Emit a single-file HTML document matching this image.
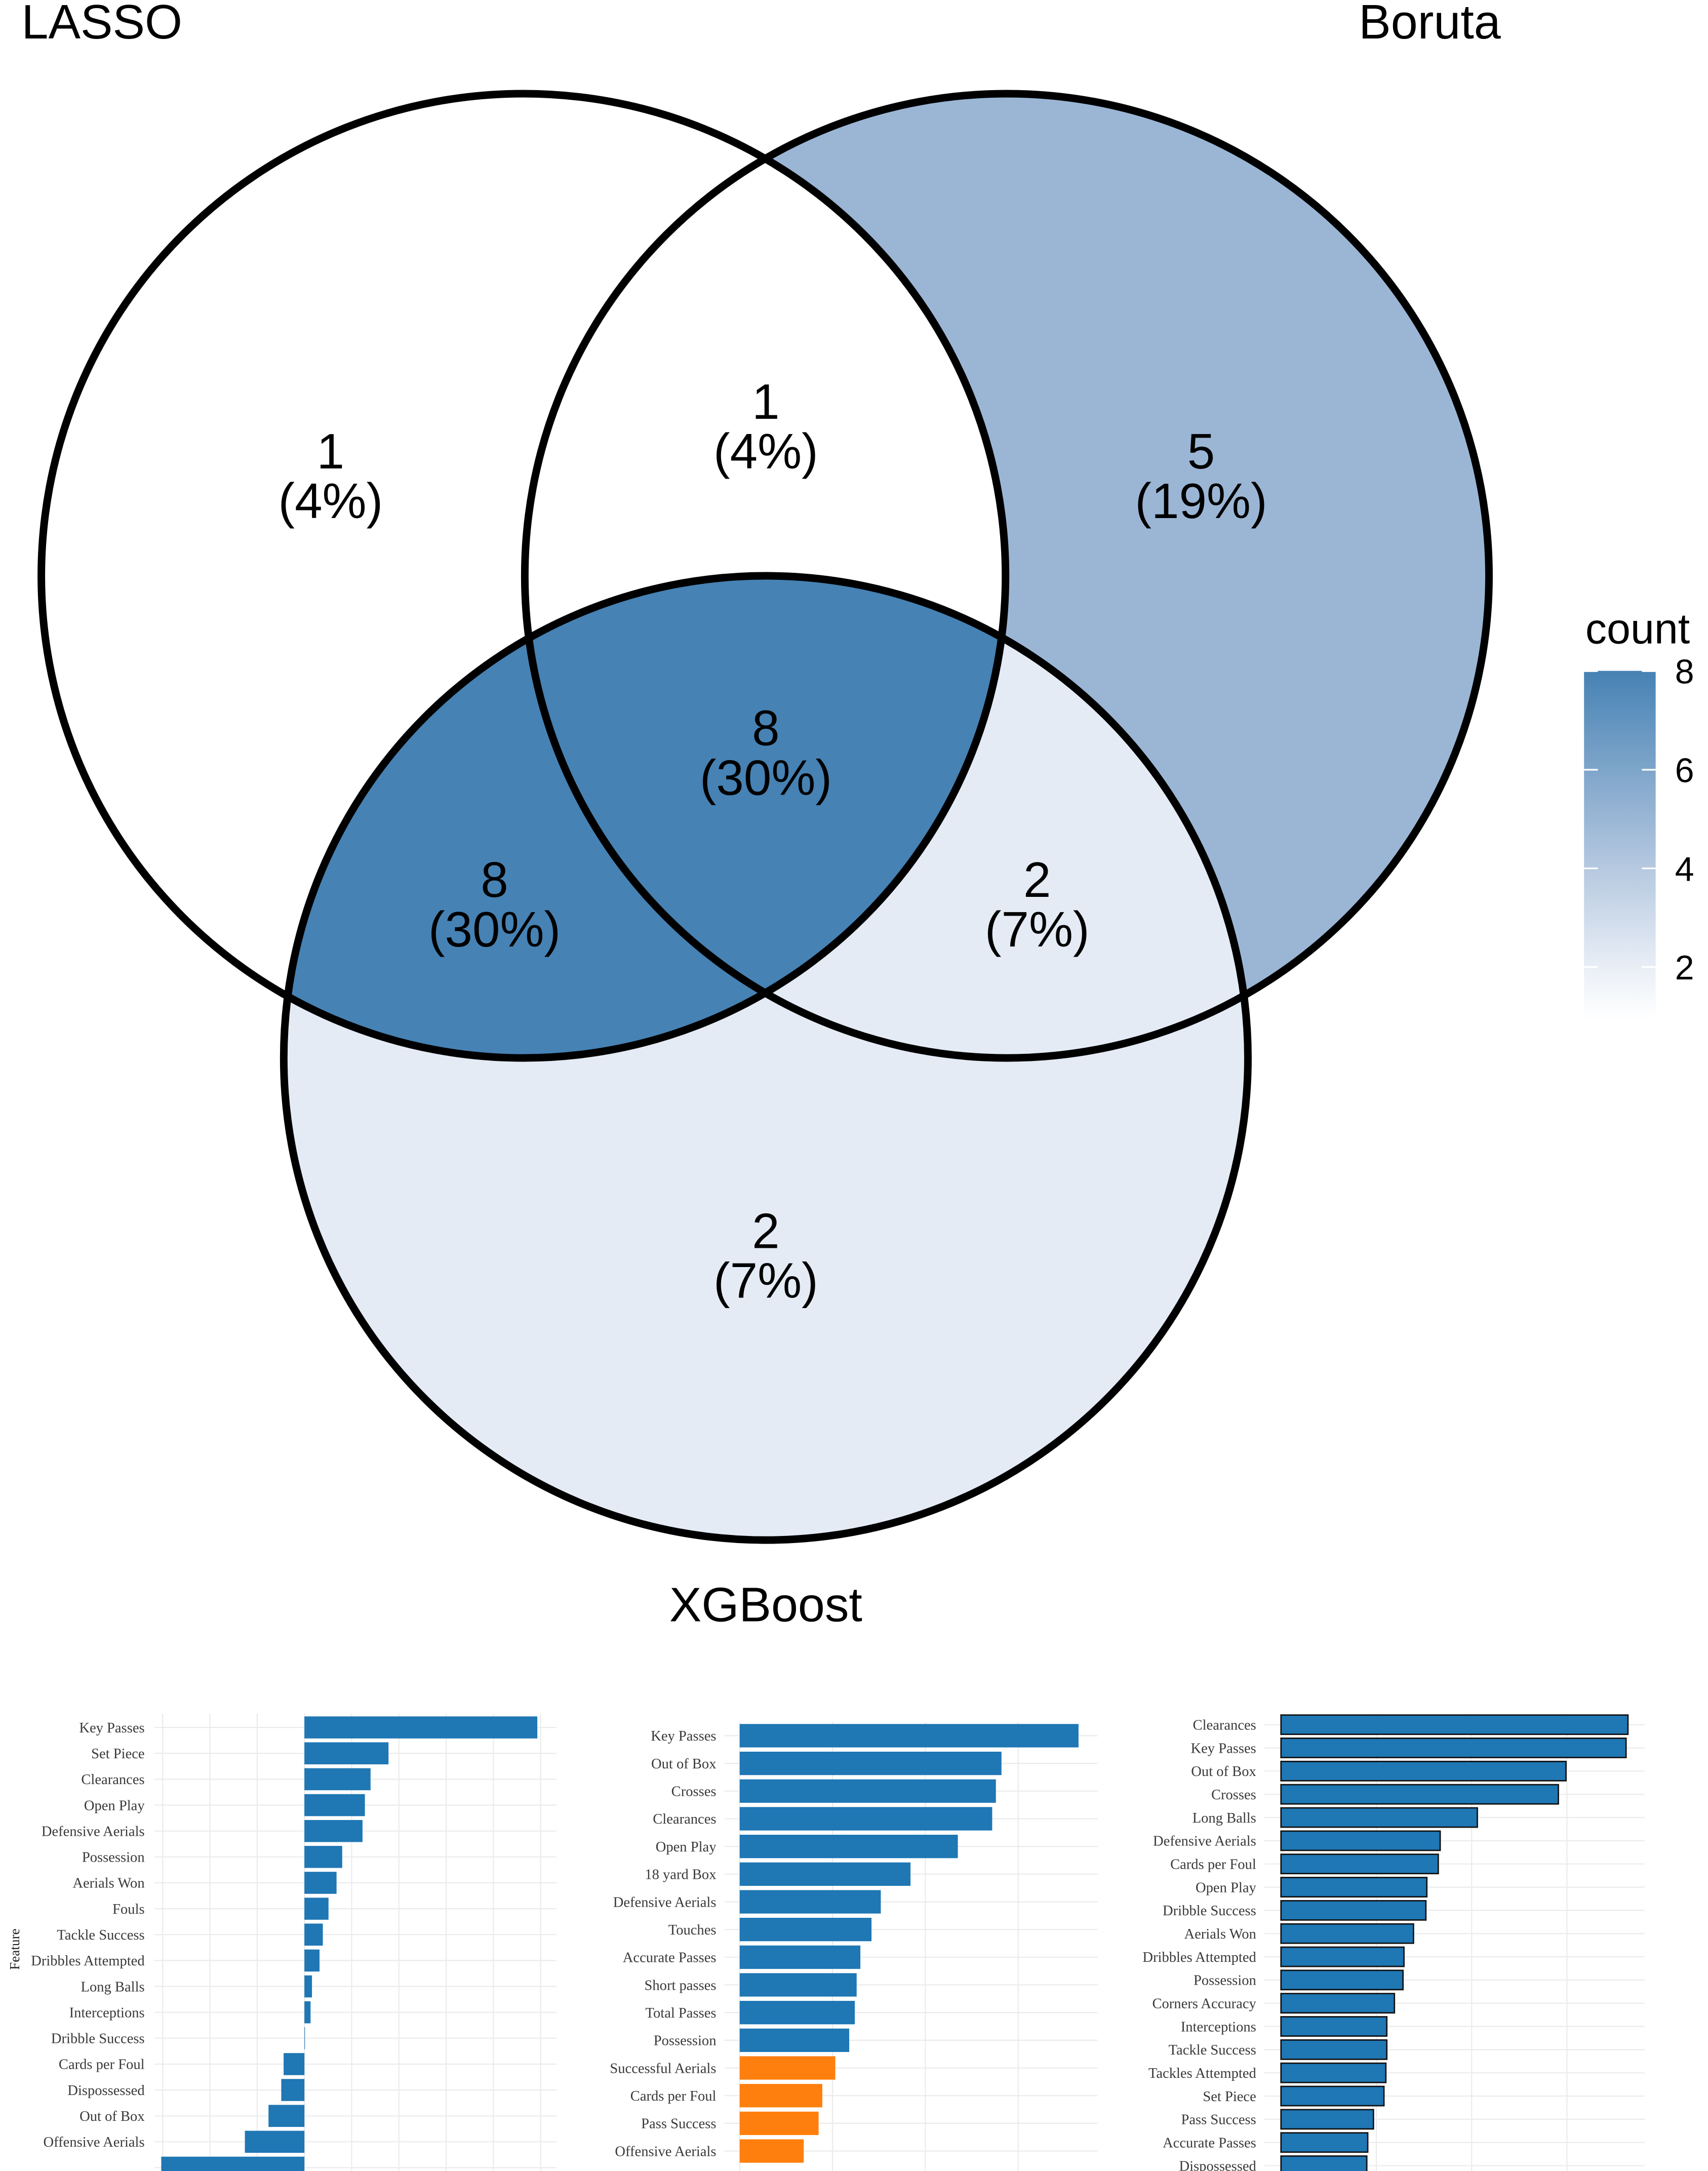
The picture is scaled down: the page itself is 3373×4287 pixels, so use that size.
<!DOCTYPE html>
<html><head><meta charset="utf-8">
<style>html,body{margin:0;padding:0;background:#fff;}svg{display:block;}</style>
</head><body>
<svg id="root" xmlns="http://www.w3.org/2000/svg" width="3373" height="4287" viewBox="0 0 1240 1576" preserveAspectRatio="none">
<defs>
<clipPath id="clipA"><circle cx="380" cy="418" r="350"/></clipPath>
<linearGradient id="lg" x1="0" y1="1" x2="0" y2="0">
<stop offset="0" stop-color="#ffffff"/>
<stop offset="0.12" stop-color="#eef2f8"/>
<stop offset="0.5" stop-color="#a9c0db"/>
<stop offset="1" stop-color="#4682b4"/>
</linearGradient>
</defs>
<g id="venn"></g>
<g id="legend"></g>
<g id="p1"></g>
<g id="p2"></g>
<g id="p3"></g>
</svg>
<script>
// ---- Venn data ----
const vennCounts = [1, 5, 2, 1, 8, 2, 8]; // A, B, C, AB, AC, BC, ABC
const vennPcts = ["4%", "19%", "7%", "4%", "30%", "7%", "30%"];
const setNames = ["LASSO", "Boruta", "XGBoost"];
// ---- Bar chart data ----
const p1Labels = ["Key Passes","Set Piece","Clearances","Open Play","Defensive Aerials","Possession","Aerials Won","Fouls","Tackle Success","Dribbles Attempted","Long Balls","Interceptions","Dribble Success","Cards per Foul","Dispossessed","Out of Box","Offensive Aerials",""];
const p1Values = [4.93,1.78,1.40,1.28,1.23,0.80,0.68,0.51,0.39,0.32,0.16,0.13,0.01,-0.44,-0.49,-0.76,-1.26,-3.03];
const p2Labels = ["Key Passes","Out of Box","Crosses","Clearances","Open Play","18 yard Box","Defensive Aerials","Touches","Accurate Passes","Short passes","Total Passes","Possession","Successful Aerials","Cards per Foul","Pass Success","Offensive Aerials"];
const p2Values = [3.65,2.82,2.76,2.72,2.35,1.84,1.52,1.42,1.30,1.26,1.24,1.18,1.03,0.89,0.85,0.69];
const p2Groups = [0,0,0,0,0,0,0,0,0,0,0,0,1,1,1,1];
const p3Labels = ["Clearances","Key Passes","Out of Box","Crosses","Long Balls","Defensive Aerials","Cards per Foul","Open Play","Dribble Success","Aerials Won","Dribbles Attempted","Possession","Corners Accuracy","Interceptions","Tackle Success","Tackles Attempted","Set Piece","Pass Success","Accurate Passes","Dispossessed"];
const p3Values = [3.64,3.62,2.99,2.91,2.06,1.67,1.65,1.53,1.52,1.39,1.29,1.28,1.19,1.11,1.11,1.10,1.08,0.97,0.91,0.90];
const legendTicks = [2,4,6,8];

const NS="http://www.w3.org/2000/svg";
function mk(tag, attrs, parent){const e=document.createElementNS(NS,tag);for(const k in attrs)e.setAttribute(k,attrs[k]);parent.appendChild(e);return e;}

// ---- Venn ----
const venn=document.getElementById('venn');
function countColor(v){
  const t=Math.max(0,Math.min(1,(v-1)/7));
  const a=[255,255,255], m=[169,192,219], b=[70,130,180];
  let c;
  if(t<0.5){const s=t/0.5;c=a.map((x,i)=>x+(m[i]-x)*s);} else {const s=(t-0.5)/0.5;c=m.map((x,i)=>x+(b[i]-x)*s);}
  if(v<=1)c=[255,255,255];
  if(v===2)c=[228,235,245];
  if(v===5)c=[155,182,213];
  return 'rgb('+c.map(Math.round).join(',')+')';
}
const cA={x:380,y:418}, cB={x:731,y:418}, cC={x:556,y:768}, R=350;
let e;
e=mk('circle',{cx:cB.x,cy:cB.y,r:R,fill:countColor(vennCounts[1])},venn);


e=mk('circle',{cx:cC.x,cy:cC.y,r:R,fill:countColor(vennCounts[2])},venn);


e=mk('circle',{cx:cA.x,cy:cA.y,r:R,fill:countColor(vennCounts[0])},venn);


e=mk('circle',{cx:cC.x,cy:cC.y,r:R,fill:countColor(vennCounts[4]),'clip-path':'url(#clipA)'},venn);


[cA,cB,cC].forEach((c,i)=>{
  const o=mk('circle',{cx:c.x,cy:c.y,r:R,fill:'none',stroke:'#000','stroke-width':5.5},venn);
  
  
});
const regionPos=[[240,344],[872,344],[556,910],[556,308],[359,655],[753,655],[556,545]];
regionPos.forEach((p,i)=>{
  const t=mk('text',{x:p[0],y:p[1]-4,'text-anchor':'middle','font-family':'Liberation Sans, sans-serif','font-size':36,fill:'#000'},venn);
  t.textContent=vennCounts[i];
  
  
  const u=mk('text',{x:p[0],y:p[1]+32,'text-anchor':'middle','font-family':'Liberation Sans, sans-serif','font-size':36,fill:'#000'},venn);
  u.textContent='('+vennPcts[i]+')';
  
  
});
const namePos=[[74,28,'middle'],[1038,28,'middle'],[556,1177,'middle']];
namePos.forEach((p,i)=>{
  const t=mk('text',{x:p[0],y:p[1],'text-anchor':p[2],'font-family':'Liberation Sans, sans-serif','font-size':35,fill:'#000'},venn);
  t.textContent=setNames[i];
  
  
});

// ---- Legend ----
const lg=document.getElementById('legend');
e=mk('text',{x:1151,y:467,'font-family':'Liberation Sans, sans-serif','font-size':31,fill:'#000'},lg);
e.textContent='count';


e=mk('rect',{x:1150,y:487,width:52,height:253,fill:'url(#lg)'},lg);


function legY(v){return 702-(v-2)*35.8;}
legendTicks.forEach(v=>{
  const y=legY(v);
  mk('line',{x1:1150,x2:1160,y1:y,y2:y,stroke:'#fff','stroke-width':1.2},lg);
  mk('line',{x1:1192,x2:1202,y1:y,y2:y,stroke:'#fff','stroke-width':1.2},lg);
  const t=mk('text',{x:1216,y:y+9,'font-family':'Liberation Sans, sans-serif','font-size':25,fill:'#000'},lg);
  t.textContent=v;
  
  
});

// ---- Bar charts ----
function barChart(g, labels, values, opt){
  const xs=v=>opt.zero+v*opt.unit;
  const ys=i=>opt.top+i*opt.step;
  // vertical grid
  for(let k=opt.gmin;k<=opt.gmax;k++){
    const x=xs(k);
    mk('line',{x1:x,x2:x,y1:opt.gridTop,y2:1576,stroke:'#ebebeb','stroke-width':0.8},g);
  }
  labels.forEach((lab,i)=>{
    const y=ys(i);
    mk('line',{x1:opt.gridLeft,x2:opt.right,y1:y,y2:y,stroke:'#ebebeb','stroke-width':0.8},g);
    const v=values[i];
    const x0=Math.min(xs(0),xs(v)), w=Math.abs(xs(v)-xs(0));
    const r=mk('rect',{x:x0,y:y-opt.bh/2,width:Math.max(w,0.4),height:opt.bh,fill:opt.color(i),stroke:opt.stroke||'none','stroke-width':opt.stroke?1:0},g);
    
    
    if(lab){
      const t=mk('text',{x:opt.labelX,y:y+3.6,'text-anchor':'end','font-family':'Liberation Serif, serif','font-size':10.5,fill:'#3a3a3a'},g);
      t.textContent=lab;
      
      
    }
  });
}
const blue='#1f77b4', orange='#ff7f0e';
barChart(document.getElementById('p1'),p1Labels,p1Values,{zero:221,unit:34.3,top:1254,step:18.8,bh:16,labelX:105,gridLeft:112,right:404,gridTop:1244,gmin:-3,gmax:5,color:()=>blue});
barChart(document.getElementById('p2'),p2Labels,p2Values,{zero:537,unit:67.4,top:1260,step:20.1,bh:17,labelX:520,gridLeft:526,right:797,gridTop:1250,gmin:0,gmax:3,color:i=>p2Groups[i]?orange:blue});
barChart(document.getElementById('p3'),p3Labels,p3Values,{zero:930,unit:69.2,top:1252,step:16.85,bh:14,labelX:912,gridLeft:918,right:1194,gridTop:1244,gmin:0,gmax:3,color:()=>blue,stroke:'#111'});
e=mk('text',{x:0,y:0,'text-anchor':'middle','font-family':'Liberation Serif, serif','font-size':10,fill:'#222',transform:'translate(14,1415) rotate(-90)'},document.getElementById('p1'));
e.textContent='Feature';


</script>
</body></html>
